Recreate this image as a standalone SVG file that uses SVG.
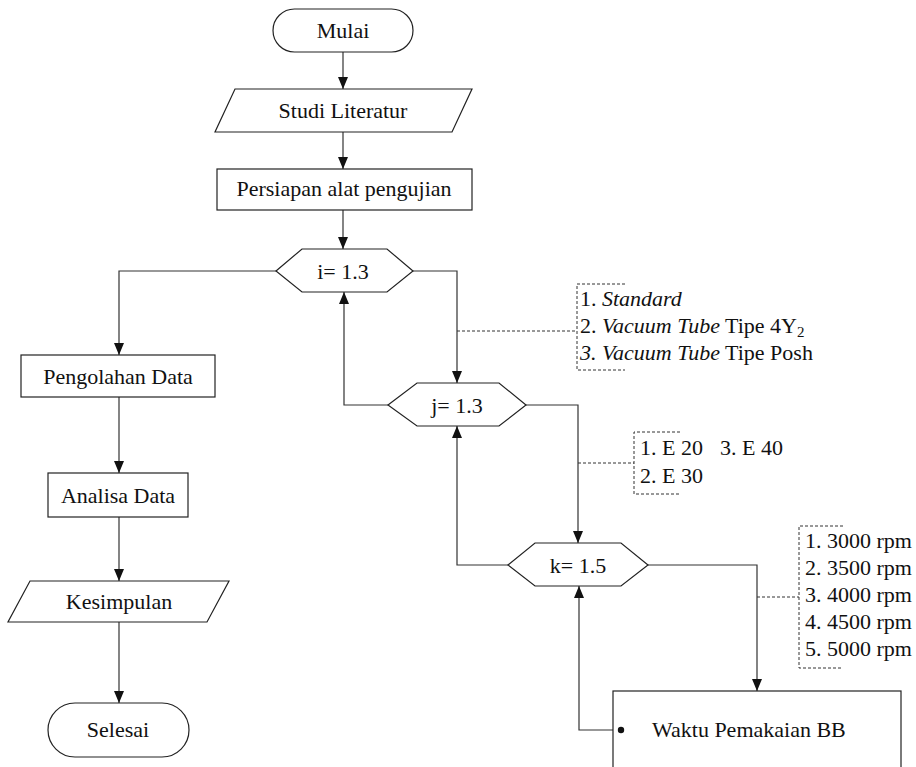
<svg xmlns="http://www.w3.org/2000/svg" width="916" height="767" viewBox="0 0 916 767">
<defs>
<marker id="ah" markerWidth="12" markerHeight="10" refX="12" refY="5" orient="auto" markerUnits="userSpaceOnUse" viewBox="0 0 12 10">
<path d="M0,0 L12,5 L0,10 Z" fill="#111"/>
</marker>
<style>
.s{fill:#fff;stroke:#222;stroke-width:1.2}
.c{fill:none;stroke:#333;stroke-width:1.2}
.d{fill:none;stroke:#333;stroke-width:1;stroke-dasharray:3,2}
text{font-family:"Liberation Serif","Times New Roman",serif;font-size:22px;fill:#111}
.m{text-anchor:middle}
.i{font-style:italic}
</style>
</defs>
<rect width="916" height="767" fill="#fff"/>
<g id="connectors">
<line class="c" x1="343" y1="52" x2="343" y2="89" marker-end="url(#ah)"/>
<line class="c" x1="343" y1="132" x2="343" y2="169" marker-end="url(#ah)"/>
<line class="c" x1="343" y1="210" x2="343" y2="249" marker-end="url(#ah)"/>
<polyline class="c" points="276,271 119,271 119,355" marker-end="url(#ah)"/>
<line class="c" x1="119" y1="397" x2="119" y2="473" marker-end="url(#ah)"/>
<line class="c" x1="119" y1="517" x2="119" y2="581" marker-end="url(#ah)"/>
<line class="c" x1="119" y1="622" x2="119" y2="703" marker-end="url(#ah)"/>
<polyline class="c" points="413,271 457,271 457,383" marker-end="url(#ah)"/>
<polyline class="c" points="388,405 344,405 344,292" marker-end="url(#ah)"/>
<polyline class="c" points="526,405 578,405 578,543" marker-end="url(#ah)"/>
<polyline class="c" points="508,565 457,565 457,426" marker-end="url(#ah)"/>
<polyline class="c" points="648,565 757,565 757,691" marker-end="url(#ah)"/>
<polyline class="c" points="613,730 579,730 579,586" marker-end="url(#ah)"/>
<line class="d" x1="457" y1="331" x2="577" y2="331"/>
<line class="d" x1="578" y1="463" x2="634" y2="463"/>
<line class="d" x1="757" y1="597" x2="799" y2="597"/>
</g>
<g id="mulai"><rect class="s" x="273" y="9" width="140" height="43" rx="21.5"/><text class="m" x="343" y="38">Mulai</text></g>
<g id="studi"><polygon class="s" points="235,89 472,89 452,132 215,132"/><text class="m" x="343" y="118">Studi Literatur</text></g>
<g id="persiapan"><rect class="s" x="217" y="169" width="255" height="41"/><text class="m" x="344" y="196">Persiapan alat pengujian</text></g>
<g id="loop-i"><polygon class="s" points="276,271 302,249 387,249 413,271 387,292 302,292"/><text class="m" x="343" y="279">i= 1.3</text></g>
<g id="loop-j"><polygon class="s" points="388,405 417,383 499,383 526,405 499,426 417,426"/><text class="m" x="457" y="413">j= 1.3</text></g>
<g id="loop-k"><polygon class="s" points="508,565 535,543 621,543 648,565 621,586 535,586"/><text class="m" x="578" y="573">k= 1.5</text></g>
<g id="pengolahan"><rect class="s" x="21" y="355" width="194" height="42"/><text class="m" x="118" y="384">Pengolahan Data</text></g>
<g id="analisa"><rect class="s" x="48" y="473" width="140" height="44"/><text class="m" x="118" y="503">Analisa Data</text></g>
<g id="kesimpulan"><polygon class="s" points="30,581 229,581 207,622 8,622"/><text class="m" x="119" y="609">Kesimpulan</text></g>
<g id="selesai"><rect class="s" x="48" y="703" width="141" height="54" rx="27"/><text class="m" x="118" y="737">Selesai</text></g>
<g id="waktu"><rect class="s" x="613" y="691" width="288" height="110"/><circle cx="621" cy="730" r="3.2" fill="#111"/><text x="652" y="737">Waktu Pemakaian BB</text></g>
<g id="note-i">
<polyline class="d" points="625,284 577,284 577,370 625,370"/>
<text x="580" y="306">1. <tspan class="i">Standard</tspan></text>
<text x="580" y="333">2. <tspan class="i">Vacuum Tube</tspan> Tipe 4Y<tspan font-size="15" dy="4">2</tspan></text>
<text x="580" y="360"><tspan class="i">3. Vacuum Tube</tspan> Tipe Posh</text>
</g>
<g id="note-j">
<polyline class="d" points="680,432 634,432 634,494 680,494"/>
<text x="640" y="455">1. E 20</text>
<text x="720" y="455">3. E 40</text>
<text x="640" y="483">2. E 30</text>
</g>
<g id="note-k">
<polyline class="d" points="843,526 799,526 799,668 843,668"/>
<text x="805" y="548">1. 3000 rpm</text>
<text x="805" y="575">2. 3500 rpm</text>
<text x="805" y="602">3. 4000 rpm</text>
<text x="805" y="629">4. 4500 rpm</text>
<text x="805" y="656">5. 5000 rpm</text>
</g>
</svg>
